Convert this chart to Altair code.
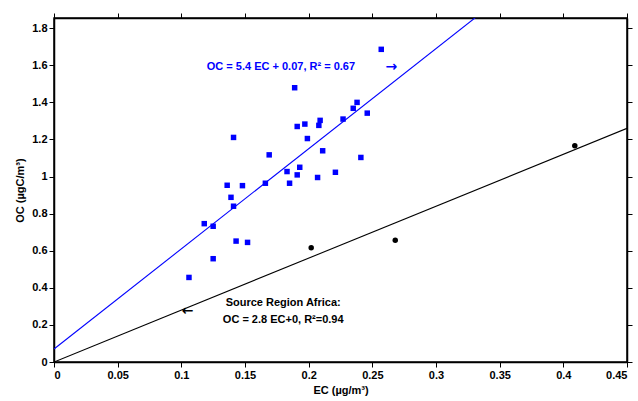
import altair as alt
import pandas as pd

# Ambient samples (blue squares): EC vs OC, µg/m³
ec_ambient = [0.189, 0.238, 0.235, 0.246, 0.227, 0.209, 0.208, 0.197, 0.191,
              0.141, 0.199, 0.211, 0.169, 0.241, 0.183, 0.193, 0.191, 0.221,
              0.207, 0.185, 0.166, 0.136, 0.148, 0.139, 0.141, 0.118, 0.125,
              0.143, 0.152, 0.125, 0.257, 0.106]
oc_ambient = [1.479, 1.400, 1.368, 1.342, 1.310, 1.303, 1.276, 1.283, 1.270,
              1.211, 1.205, 1.139, 1.117, 1.103, 1.027, 1.050, 1.009, 1.023,
              0.995, 0.964, 0.964, 0.953, 0.951, 0.888, 0.840, 0.746, 0.732,
              0.652, 0.645, 0.557, 1.686, 0.456]

# Source region Africa samples (black dots)
ec_africa = [0.202, 0.268, 0.409]
oc_africa = [0.616, 0.656, 1.166]

# Regression fits: OC = slope * EC + intercept
fit_names = ["ambient", "africa"]
fit_slopes = [5.4, 2.8]
fit_intercepts = [0.07, 0.0]
fit_range = [0.0, 0.45]

# Annotation texts and anchor positions (data units)
blue_label = "OC = 5.4 EC + 0.07, R² = 0.67"
blue_label_pos = (0.120, 1.589)
blue_arrow_pos = (0.265, 1.592)
africa_lines = ["Source Region Africa:", "OC = 2.8 EC+0, R²=0.94"]
africa_ec = [0.180, 0.180]
africa_oc = [0.319, 0.227]
africa_arrow_pos = (0.105, 0.273)

x_ticks = [0, 0.05, 0.1, 0.15, 0.2, 0.25, 0.3, 0.35, 0.4, 0.45]
y_ticks = [0, 0.2, 0.4, 0.6, 0.8, 1.0, 1.2, 1.4, 1.6, 1.8]

FONT = "Liberation Sans"
BLUE = "#0000ff"

amb = pd.DataFrame({"EC": ec_ambient, "OC": oc_ambient})
afr = pd.DataFrame({"EC": ec_africa, "OC": oc_africa})
fits = pd.DataFrame([
    {"fit": n, "EC": e, "OC": s * e + b}
    for n, s, b in zip(fit_names, fit_slopes, fit_intercepts)
    for e in fit_range
])

xs = alt.Scale(domain=[0, 0.45], nice=False, zero=False)
ys = alt.Scale(domain=[0, 1.855], nice=False, zero=False)

axis_common = dict(
    labelFont=FONT, labelFontWeight="bold", labelFontSize=11, labelColor="black",
    titleFont=FONT, titleFontWeight="bold", titleFontSize=11, titleColor="black",
    domainColor="black", domainWidth=1.5, tickColor="black", tickWidth=1,
    tickSize=5, grid=False, format="~g",
)

x_bottom = alt.X("EC:Q", scale=xs, title="EC (µg/m³)",
                 axis=alt.Axis(values=x_ticks, orient="bottom", titlePadding=4, **axis_common))
y_left = alt.Y("OC:Q", scale=ys, title="OC (µgC/m³)",
               axis=alt.Axis(values=y_ticks, orient="left", titlePadding=6, **axis_common))

lines = alt.Chart(fits).mark_line(strokeWidth=1.1, clip=True).encode(
    x=x_bottom, y=y_left,
    color=alt.Color("fit:N", scale=alt.Scale(domain=fit_names, range=[BLUE, "black"]), legend=None),
    detail="fit:N",
)

amb_pts = alt.Chart(amb).mark_square(size=30, color=BLUE, opacity=1).encode(
    x=x_bottom, y=y_left)
afr_pts = alt.Chart(afr).mark_circle(size=30, color="black", opacity=1).encode(
    x=x_bottom, y=y_left)

txt_style = dict(font=FONT, fontWeight="bold", fontSize=11)
arrow_style = dict(font="DejaVu Sans", fontWeight="bold", fontSize=14)

blue_txt = alt.Chart(pd.DataFrame({"EC": [blue_label_pos[0]], "OC": [blue_label_pos[1]],
                                   "t": [blue_label]})).mark_text(
    align="left", baseline="middle", color=BLUE, **txt_style).encode(
    x=x_bottom, y=y_left, text="t:N")
blue_arr = alt.Chart(pd.DataFrame({"EC": [blue_arrow_pos[0]], "OC": [blue_arrow_pos[1]],
                                   "t": ["→"]})).mark_text(
    align="center", baseline="middle", color=BLUE, **arrow_style).encode(
    x=x_bottom, y=y_left, text="t:N")

afr_txt = alt.Chart(pd.DataFrame({"EC": africa_ec, "OC": africa_oc, "t": africa_lines})).mark_text(
    align="center", baseline="middle", color="black", **txt_style).encode(
    x=x_bottom, y=y_left, text="t:N")
afr_arr = alt.Chart(pd.DataFrame({"EC": [africa_arrow_pos[0]], "OC": [africa_arrow_pos[1]],
                                  "t": ["←"]})).mark_text(
    align="center", baseline="middle", color="black", **arrow_style).encode(
    x=x_bottom, y=y_left, text="t:N")

# Mirrored tick marks on the top and right edges of the frame
mirror_common = dict(axis_common)
mirror_common.update(labels=False, title=None)
frame = alt.Chart(pd.DataFrame({"EC": [0.0], "OC": [0.0]})).mark_point(opacity=0).encode(
    x=alt.X("EC:Q", scale=xs, axis=alt.Axis(values=x_ticks, orient="top", **mirror_common)),
    y=alt.Y("OC:Q", scale=ys, axis=alt.Axis(values=y_ticks, orient="right", **mirror_common)),
)

main = alt.layer(lines, amb_pts, afr_pts, blue_txt, blue_arr, afr_txt, afr_arr)

chart = alt.layer(main, frame).resolve_axis(x="independent", y="independent").properties(
    width=573, height=344,
    autosize=alt.AutoSizeParams(type="none"),
    padding={"left": 54, "top": 18, "right": 11, "bottom": 39},
    background="white",
).configure_view(stroke="black", strokeWidth=1.5)

chart.save("out.html", embed_options={"renderer": "svg", "actions": False})
